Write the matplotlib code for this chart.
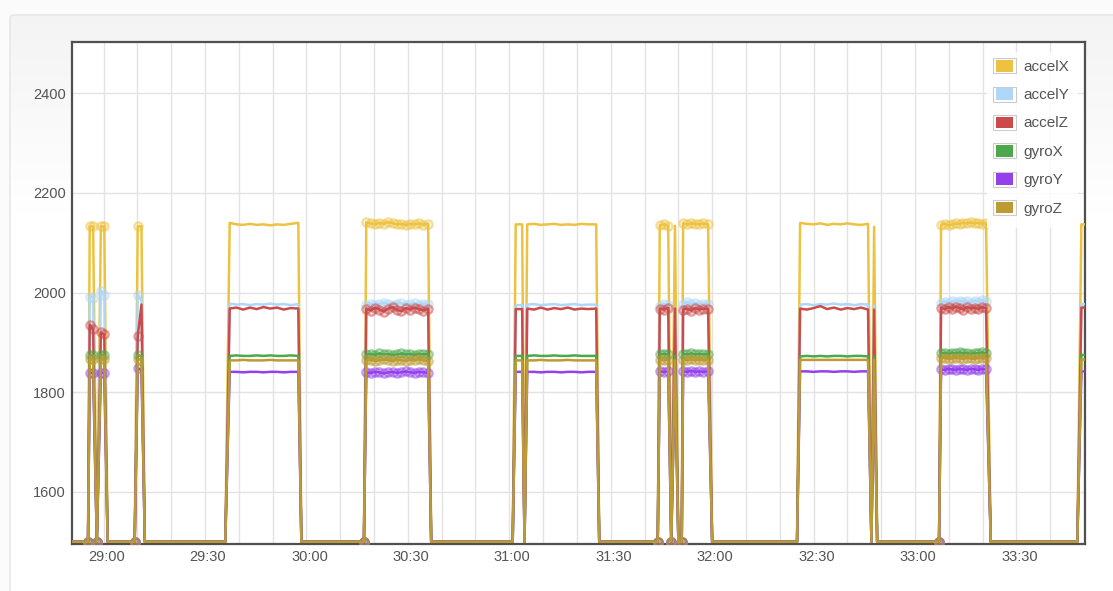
import matplotlib
matplotlib.use('Agg')
import matplotlib.pyplot as plt
import numpy as np
from matplotlib.patches import Rectangle, FancyBboxPatch
from matplotlib.transforms import ScaledTranslation
from matplotlib.ticker import FixedLocator, MultipleLocator, NullFormatter
from matplotlib.colors import to_rgba

plt.rcParams['font.family'] = ['Liberation Sans', 'DejaVu Sans']

# ---------------- data (time in seconds after 28:00) ----------------
B = 1500
series_names = ['accelX', 'accelY', 'accelZ', 'gyroX', 'gyroY', 'gyroZ']
series_colors = ['#edc240', '#afd8f8', '#cb4b4b', '#4da74d', '#9440ed', '#bd9b33']

t_sec = [
    48.0,
    55.4, 55.9, 56.9, 58.0, 59.2, 60.2, 61.2,
    69.2, 70.1, 71.2, 72.2,
    96.0, 97.3, 99.3, 101.3, 103.3, 105.3, 107.3, 109.3, 111.3, 113.3, 115.3, 117.6, 118.5,
    137.0, 137.7, 139.0, 140.3, 141.6, 142.9, 144.2, 145.5, 146.8, 148.1, 149.4, 150.7, 152.0, 153.3, 154.6, 156.0, 156.9,
    181.0, 181.9, 183.8, 184.5, 185.3, 187.3, 189.3, 191.3, 193.3, 195.3, 197.3, 199.3, 201.3, 203.3, 205.7, 206.6,
    223.9, 224.5, 225.7, 227.0, 227.9, 229.0, 230.0, 231.0, 231.4, 232.6, 233.8, 235.0, 236.2, 237.4, 238.8, 240.0,
    265.1, 266.0, 268.0, 270.0, 272.0, 274.0, 276.0, 278.0, 280.0, 282.0, 284.0, 286.1, 287.1, 287.9, 288.8,
    307.1, 307.7, 308.8, 309.9, 311.0, 312.1, 313.2, 314.3, 315.4, 316.5, 317.6, 318.7, 319.8, 321.0, 322.4,
    348.0, 349.2, 353.0,
]
marked = [
    0,
    1, 1, 1, 1, 1, 1, 0,
    1, 1, 0, 0,
    0, 0, 0, 0, 0, 0, 0, 0, 0, 0, 0, 0, 0,
    1, 1, 1, 1, 1, 1, 1, 1, 1, 1, 1, 1, 1, 1, 1, 1, 0,
    0, 0, 0, 0, 0, 0, 0, 0, 0, 0, 0, 0, 0, 0, 0, 0,
    1, 1, 1, 1, 1, 0, 0, 1, 1, 1, 1, 1, 1, 1, 1, 0,
    0, 0, 0, 0, 0, 0, 0, 0, 0, 0, 0, 0, 0, 0, 0,
    1, 1, 1, 1, 1, 1, 1, 1, 1, 1, 1, 1, 1, 1, 0,
    0, 0, 0,
]
accelX = [
    B,
    B, 2133, 2133, B, 2133, 2133, B,
    B, 2133, 2133, B,
    B, 2140, 2137, 2136, 2138, 2136, 2137, 2135, 2137, 2136, 2138, 2140, B,
    B, 2141, 2139, 2137, 2140, 2138, 2142, 2139, 2137, 2138, 2136, 2138, 2137, 2139, 2136, 2138, B,
    B, 2137, 2137, B, 2137, 2138, 2136, 2137, 2138, 2136, 2137, 2136, 2138, 2137, 2137, B,
    B, 2135, 2137, 2134, B, 2134, B, B, 2139, 2137, 2139, 2138, 2137, 2139, 2137, B,
    B, 2140, 2138, 2137, 2139, 2136, 2138, 2137, 2139, 2137, 2136, 2138, B, 2132, B,
    B, 2136, 2138, 2135, 2137, 2139, 2138, 2140, 2139, 2141, 2139, 2140, 2138, 2139, B,
    B, 2137, 2137,
]
accelY = [
    B,
    B, 1992, 1990, B, 2004, 1996, B,
    B, 1996, 1985, B,
    B, 1978, 1976, 1977, 1975, 1977, 1976, 1978, 1976, 1977, 1975, 1977, B,
    B, 1976, 1978, 1975, 1977, 1980, 1977, 1975, 1978, 1979, 1976, 1977, 1979, 1976, 1978, 1977, B,
    B, 1975, 1975, B, 1976, 1977, 1975, 1976, 1977, 1975, 1976, 1977, 1975, 1976, 1976, B,
    B, 1974, 1977, 1975, B, 1968, B, B, 1978, 1981, 1977, 1979, 1976, 1978, 1977, B,
    B, 1976, 1977, 1975, 1977, 1976, 1978, 1976, 1977, 1975, 1977, 1976, B, 1974, B,
    B, 1979, 1982, 1980, 1983, 1981, 1984, 1981, 1983, 1980, 1984, 1982, 1985, 1983, B,
    B, 1977, 1977,
]
accelZ = [
    B,
    B, 1936, 1926, B, 1920, 1916, B,
    B, 1912, 1976, B,
    B, 1968, 1970, 1966, 1970, 1967, 1971, 1968, 1970, 1966, 1969, 1968, B,
    B, 1968, 1964, 1970, 1966, 1962, 1968, 1971, 1965, 1963, 1969, 1966, 1970, 1967, 1964, 1968, B,
    B, 1967, 1967, B, 1968, 1966, 1970, 1966, 1969, 1967, 1970, 1966, 1968, 1967, 1968, B,
    B, 1968, 1966, 1969, B, 1968, B, B, 1966, 1968, 1964, 1969, 1966, 1968, 1967, B,
    B, 1968, 1966, 1969, 1973, 1967, 1970, 1966, 1969, 1967, 1970, 1966, B, 1966, B,
    B, 1970, 1967, 1971, 1968, 1972, 1969, 1966, 1971, 1968, 1970, 1967, 1971, 1969, B,
    B, 1970, 1970,
]
gyroX = [
    B,
    B, 1875, 1874, B, 1875, 1874, B,
    B, 1874, 1873, B,
    B, 1873, 1874, 1873, 1873, 1874, 1873, 1874, 1873, 1873, 1874, 1873, B,
    B, 1876, 1877, 1875, 1878, 1876, 1877, 1875, 1876, 1878, 1876, 1877, 1875, 1877, 1876, 1877, B,
    B, 1873, 1873, B, 1873, 1874, 1873, 1873, 1874, 1873, 1873, 1874, 1873, 1873, 1873, B,
    B, 1876, 1877, 1876, B, 1873, B, B, 1877, 1876, 1878, 1876, 1877, 1876, 1877, B,
    B, 1872, 1873, 1872, 1873, 1872, 1873, 1873, 1872, 1873, 1873, 1872, B, 1872, B,
    B, 1878, 1879, 1877, 1879, 1878, 1880, 1878, 1879, 1877, 1879, 1878, 1880, 1878, B,
    B, 1875, 1875,
]
gyroY = [
    B,
    B, 1839, 1839, B, 1839, 1839, B,
    B, 1848, 1845, B,
    B, 1841, 1841, 1840, 1841, 1841, 1840, 1841, 1841, 1840, 1841, 1841, B,
    B, 1840, 1839, 1841, 1840, 1838, 1840, 1841, 1839, 1840, 1842, 1840, 1839, 1841, 1840, 1839, B,
    B, 1841, 1841, B, 1841, 1841, 1840, 1841, 1841, 1840, 1841, 1841, 1840, 1841, 1841, B,
    B, 1842, 1841, 1842, B, 1840, B, B, 1842, 1841, 1843, 1841, 1842, 1841, 1842, B,
    B, 1842, 1842, 1841, 1842, 1842, 1841, 1842, 1842, 1841, 1842, 1842, B, 1841, B,
    B, 1846, 1845, 1847, 1846, 1845, 1847, 1846, 1845, 1847, 1846, 1845, 1847, 1846, B,
    B, 1842, 1842,
]
gyroZ = [
    B,
    B, 1866, 1866, B, 1866, 1866, B,
    B, 1866, 1866, B,
    B, 1864, 1864, 1865, 1864, 1864, 1864, 1865, 1864, 1864, 1864, 1864, B,
    B, 1864, 1865, 1863, 1864, 1866, 1864, 1863, 1865, 1864, 1863, 1865, 1864, 1866, 1864, 1863, B,
    B, 1864, 1864, B, 1864, 1864, 1865, 1864, 1864, 1864, 1865, 1864, 1864, 1864, 1864, B,
    B, 1865, 1864, 1865, B, 1864, B, B, 1865, 1864, 1866, 1864, 1865, 1864, 1865, B,
    B, 1865, 1865, 1865, 1865, 1865, 1865, 1865, 1865, 1865, 1865, 1865, B, 1865, B,
    B, 1868, 1869, 1867, 1868, 1869, 1868, 1867, 1869, 1868, 1867, 1869, 1868, 1868, B,
    B, 1866, 1866,
]
xtick_labels = ['29:00', '29:30', '30:00', '30:30', '31:00', '31:30', '32:00', '32:30', '33:00', '33:30']
ytick_values = [1600, 1800, 2000, 2200, 2400]

series_values = [accelX, accelY, accelZ, gyroX, gyroY, gyroZ]
for v in series_values:
    assert len(v) == len(t_sec)
assert len(marked) == len(t_sec)

# ---------------- figure ----------------
W, H = 1113, 591
fig = plt.figure(figsize=(W / 100, H / 100), dpi=100, facecolor='#fbfbfb')

# page panel background
bg = fig.add_axes([0, 0, 1, 1], zorder=-10)
bg.set_axis_off()
bg.set_xlim(0, W)
bg.set_ylim(H, 0)
grad = np.linspace(0, 1, 200)
cols = np.zeros((200, 1, 3))
top_c = np.array([0.955, 0.955, 0.955])
bot_c = np.array([1.0, 1.0, 1.0])
for i, g in enumerate(grad):
    cols[i, 0, :] = top_c + (bot_c - top_c) * g
bg.imshow(cols, extent=[10, W + 5, 215, 15], aspect='auto', zorder=0)
bg.add_patch(Rectangle((10, 215), W, H, facecolor='white', edgecolor='none', zorder=0))
bg.add_patch(FancyBboxPatch((10, 15), W + 20, H + 20, boxstyle='round,pad=0,rounding_size=4',
                            facecolor='none', edgecolor='#e4e4e4', linewidth=1.0, zorder=1))

ax_left, ax_right, ax_top, ax_bottom = 72.0, 1085.0, 42.3, 543.5
ax = fig.add_axes([ax_left / W, 1 - ax_bottom / H, (ax_right - ax_left) / W, (ax_bottom - ax_top) / H])
ax.set_facecolor('white')

t = np.array(t_sec)
m = np.array(marked, dtype=bool)
z = 3
for name, col, vals in zip(series_names, series_colors, series_values):
    v = np.array(vals, dtype=float)
    ax.plot(t, v, color=col, lw=1.8, solid_joinstyle='round', zorder=z)
    ax.plot(t[m], v[m], linestyle='none', marker='o', markersize=6.0,
            markerfacecolor=to_rgba(col, 0.18), markeredgecolor=to_rgba(col, 0.5),
            markeredgewidth=1.6, zorder=z + 0.5)
    z += 1

ax.set_xlim(50.66, 350.27)
ax.set_ylim(1496.5, 2502.4)


def mmss_to_sec(s):
    mm, ss = s.split(':')
    return (int(mm) - 28) * 60 + int(ss)


xt = [mmss_to_sec(s) for s in xtick_labels]
ax.xaxis.set_major_locator(FixedLocator(xt))
ax.set_xticklabels(xtick_labels)
ax.xaxis.set_minor_locator(MultipleLocator(10))
ax.xaxis.set_minor_formatter(NullFormatter())
ax.set_yticks(ytick_values)
ax.set_yticklabels([str(v) for v in ytick_values])

ax.grid(True, which='both', color='#e3e3e3', linewidth=1.0, zorder=0)
ax.set_axisbelow(True)
ax.tick_params(which='both', length=0, labelsize=10.5, colors='#545454')
ax.tick_params(axis='y', pad=4.5)
ax.tick_params(axis='x', pad=5.0)
for lab in ax.get_xticklabels():
    lab.set_transform(lab.get_transform() + ScaledTranslation(3 / 100, 0, fig.dpi_scale_trans))

for sp in ax.spines.values():
    sp.set_color('#505050')
    sp.set_linewidth(1.6)
    sp.set_zorder(2.5)


# ---------------- legend (Flot style) ----------------
def px(x, y):
    return (x / W, 1 - y / H)


def add_rect(x0, y0, x1, y1, **kw):
    r = Rectangle(px(x0, y1), (x1 - x0) / W, (y1 - y0) / H, transform=fig.transFigure, **kw)
    fig.add_artist(r)


add_rect(986.7, 51.7, 1078.0, 228.0, facecolor='white', edgecolor='none', alpha=0.85, zorder=20)
row0, drow = 65.8, 28.35
for i, (name, col) in enumerate(zip(series_names, series_colors)):
    cy = row0 + i * drow
    add_rect(993.3, cy - 7.5, 1015.7, cy + 7.5, facecolor='white', edgecolor='#cccccc', linewidth=0.8, zorder=21)
    add_rect(995.8, cy - 5.8, 1013.2, cy + 5.8, facecolor=col, edgecolor='none', zorder=22)
    fig.text(1023.0 / W, 1 - (cy + 1.0) / H, name, fontsize=11, color='#545454', va='center', ha='left', zorder=23)

fig.savefig('out.png', dpi=100, facecolor=fig.get_facecolor())
